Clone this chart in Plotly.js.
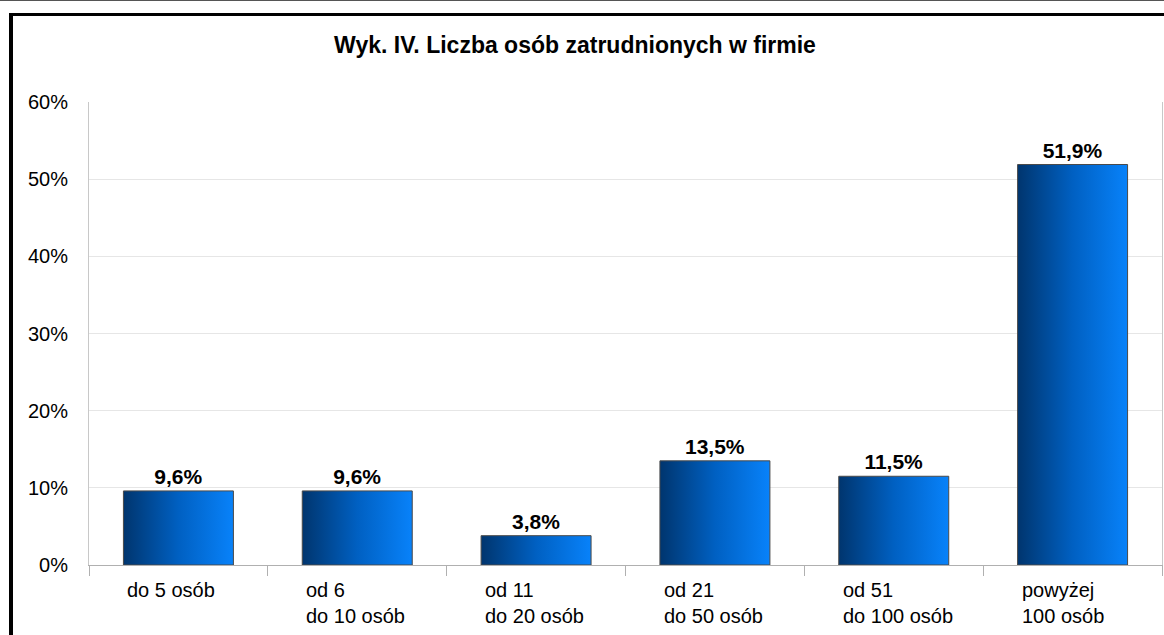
<!DOCTYPE html>
<html>
<head>
<meta charset="utf-8">
<script src="https://cdn.plot.ly/plotly-3.0.1.min.js"></script>
<style>
  html, body { margin: 0; padding: 0; background: #ffffff; }
  #wrap { position: relative; width: 1164px; height: 635px; overflow: hidden; }
  #chart { position: absolute; left: 0; top: 0; width: 1164px; height: 635px; }
  #topline { position: absolute; left: 0; top: 0; width: 1164px; height: 1px; background: #555555; pointer-events: none; }
  #frame { position: absolute; left: 9px; top: 13px; width: 1300px; height: 800px; border-left: 4px solid #000; border-top: 3px solid #000; pointer-events: none; }
</style>
</head>
<body>
<div id="wrap">
  <div id="chart"></div>
  <div id="topline"></div>
  <div id="frame"></div>
</div>
<script>
const titleText = "Wyk. IV. Liczba osób zatrudnionych w firmie";
const categories = ["do 5 osób", "od 6<br>do 10 osób", "od 11<br>do 20 osób", "od 21<br>do 50 osób", "od 51<br>do 100 osób", "powyżej<br>100 osób"];
const values = [9.6, 9.6, 3.8, 13.5, 11.5, 51.9];
const yTickValues = [0, 10, 20, 30, 40, 50, 60];
const yTickLabels = ["0%", "10%", "20%", "30%", "40%", "50%", "60%"];

const FONT = "'Liberation Sans', Arial, sans-serif";

const trace = {
  type: "bar",
  x: categories,
  y: values,
  width: 0.615,
  marker: { color: "#0058b8", line: { color: "#4a4a4a", width: 1 } },
  texttemplate: "%{y:.1f}%",
  textposition: "outside",
  cliponaxis: false,
  textfont: { family: FONT, size: 21, color: "#000000", weight: 700 },
  hoverinfo: "skip"
};

const annotations = categories.map(c => ({
  x: c, xref: "x", y: 0, yref: "y",
  text: c, showarrow: false,
  xanchor: "left", yanchor: "top", align: "left",
  xshift: -53, yshift: -12,
  font: { family: FONT, size: 20, color: "#000000" }
}));

const layout = {
  width: 1164, height: 635,
  margin: { l: 89, r: 2, t: 102, b: 70 },
  paper_bgcolor: "#ffffff", plot_bgcolor: "#ffffff",
  separators: ", ",
  showlegend: false,
  title: {
    text: titleText,
    font: { family: FONT, size: 23, color: "#000000", weight: 700 },
    xref: "container", x: 0.494, xanchor: "center",
    yref: "container", y: 1 - 45 / 635, yanchor: "middle"
  },
  xaxis: {
    type: "category",
    showticklabels: false,
    tickson: "boundaries",
    ticks: "outside", ticklen: 10, tickcolor: "#b0b0b0", tickwidth: 1,
    showline: true, linecolor: "#b0b0b0", linewidth: 1,
    showgrid: false, zeroline: false, fixedrange: true
  },
  yaxis: {
    range: [0, 60],
    tickmode: "array",
    tickvals: yTickValues,
    ticktext: yTickLabels,
    ticks: "",
    ticklabelstandoff: 16,
    tickfont: { family: FONT, size: 20, color: "#000000" },
    showgrid: true, gridcolor: "#e6e6e6", gridwidth: 1,
    showline: true, linecolor: "#c8c8c8", linewidth: 1, mirror: true,
    zeroline: false, fixedrange: true
  },
  annotations: annotations
};

Plotly.newPlot("chart", [trace], layout, { displayModeBar: false, staticPlot: true }).then(gd => {
  const svg = gd.querySelector("svg.main-svg");
  const ns = "http://www.w3.org/2000/svg";
  let defs = svg.querySelector("defs");
  if (!defs) { defs = document.createElementNS(ns, "defs"); svg.insertBefore(defs, svg.firstChild); }
  const grad = document.createElementNS(ns, "linearGradient");
  grad.setAttribute("id", "barGrad");
  grad.setAttribute("x1", "0"); grad.setAttribute("y1", "0");
  grad.setAttribute("x2", "1"); grad.setAttribute("y2", "0");
  [["0%", "#00356e"], ["50%", "#0060c2"], ["100%", "#0882fa"]].forEach(([o, c]) => {
    const s = document.createElementNS(ns, "stop");
    s.setAttribute("offset", o); s.setAttribute("stop-color", c);
    grad.appendChild(s);
  });
  defs.appendChild(grad);
  gd.querySelectorAll(".bars .point path").forEach(p => { p.style.fill = "url(#barGrad)"; });
});
</script>
</body>
</html>
